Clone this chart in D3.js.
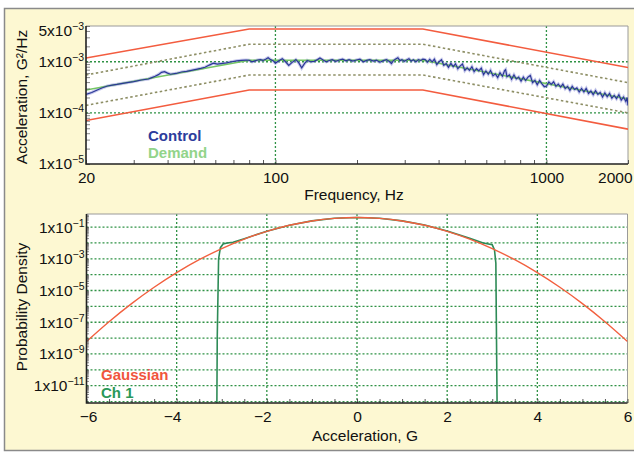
<!DOCTYPE html>
<html>
<head>
<meta charset="utf-8">
<script src="https://cdn.jsdelivr.net/npm/d3@7/dist/d3.min.js"></script>
<style>
  body { margin: 0; background: #ffffff; }
  svg { display: block; font-family: 'Liberation Sans', Arial, Helvetica, sans-serif; }
</style>
</head>
<body>
<script>
// ---- top panel: random vibration spectrum (G^2/Hz vs Hz)
const psdTicksX = [20, 100, 1000, 2000]
const psdTicksY = [1e-5, 1e-4, 1e-3, 5e-3]
const psdGridX = [100, 1000]
const psdGridY = [1e-4, 1e-3]

const profileF = [20, 80, 350, 2000]
const demand = [2.8e-4, 1.07e-3, 1.07e-3, 1.87e-4]
const abortHi = [1.18e-3, 4.37e-3, 4.37e-3, 7.7e-4]
const abortLo = [7.1e-5, 2.8e-4, 2.8e-4, 4.8e-5]
const alarmHi = [5.5e-4, 2.2e-3, 2.2e-3, 3.9e-4]
const alarmLo = [1.4e-4, 5.5e-4, 5.5e-4, 1.0e-4]

const controlF = [
  20, 21, 22, 23, 24, 25, 26, 28, 30, 32, 34, 35, 36, 37, 38, 39, 40, 41, 43, 45,
  47, 49, 51, 53, 55, 57, 59, 61, 63, 66, 69, 72, 75, 78, 80, 82, 84, 86, 88, 90,
  92, 94, 96, 98, 100, 103, 106, 109, 112, 115, 119, 122, 125, 128, 131, 135, 139, 143, 146, 150,
  154, 158, 162, 167, 172, 177, 182, 187, 193, 199, 205, 211, 217, 223, 230, 236, 243, 250, 257, 264,
  268, 272, 277, 283, 288, 293, 299, 305, 311, 317, 323, 330, 337, 344, 350, 357, 364, 371, 379, 386,
  394, 402, 410, 418, 427, 435, 444, 453, 462, 471, 481, 490, 500, 510, 520, 531, 541, 552, 563, 575,
  586, 598, 610, 622, 635, 648, 661, 674, 688, 701, 707, 715, 730, 744, 759, 774, 790, 806, 822, 838,
  855, 872, 889, 907, 925, 944, 963, 982, 1001, 1021, 1042, 1063, 1084, 1106, 1128, 1150, 1173, 1197, 1221, 1245,
  1270, 1295, 1321, 1348, 1375, 1402, 1430, 1459, 1488, 1518, 1548, 1579, 1611, 1643, 1676, 1710, 1744, 1779, 1814, 1851,
  1888, 1926, 1964, 1985, 2000
]
const controlV = [
  2.3e-4, 2.5e-4, 2.8e-4, 3.1e-4, 3.35e-4, 3.5e-4, 3.6e-4, 3.85e-4, 4.1e-4, 4.4e-4, 4.6e-4, 4.9e-4, 5.2e-4, 5.6e-4, 6.2e-4, 6.4e-4, 6.0e-4, 5.7e-4, 5.9e-4, 6.3e-4,
  6.5e-4, 6.8e-4, 7.1e-4, 7.4e-4, 7.8e-4, 8.6e-4, 9.4e-4, 9.0e-4, 9.2e-4, 9.5e-4, 1.0e-3, 1.04e-3, 1.06e-3, 1.08e-3, 1.07e-3, 1.0e-3, 1.04e-3, 1.08e-3, 1.1e-3, 1.06e-3,
  1.12e-3, 1.2e-3, 1.1e-3, 1.05e-3, 9.4e-4, 1.05e-3, 1.15e-3, 1.0e-3, 8.5e-4, 9.6e-4, 1.1e-3, 9.5e-4, 7.6e-4, 9.2e-4, 1.06e-3, 1.0e-3, 1.02e-3, 1.1e-3, 1.18e-3, 1.08e-3,
  1.0e-3, 1.06e-3, 1.1e-3, 1.02e-3, 1.08e-3, 1.12e-3, 1.04e-3, 1.1e-3, 1.03e-3, 1.08e-3, 1.12e-3, 1.0e-3, 1.06e-3, 1.1e-3, 1.03e-3, 1.07e-3, 9.8e-4, 1.05e-3, 1.1e-3, 1.0e-3,
  9.2e-4, 1.04e-3, 1.12e-3, 1.2e-3, 1.05e-3, 1.1e-3, 1.02e-3, 1.08e-3, 1.14e-3, 1.03e-3, 1.09e-3, 1.0e-3, 1.1e-3, 1.06e-3, 1.12e-3, 1.1e-3, 9.8e-4, 1.11e-3, 9.9e-4, 1.12e-3,
  8.8e-4, 1.0e-3, 1.09e-3, 8.5e-4, 9.2e-4, 7.8e-4, 9.3e-4, 8.0e-4, 9.1e-4, 7.3e-4, 8.3e-4, 9.0e-4, 6.75e-4, 7.6e-4, 6.8e-4, 8.0e-4, 6.4e-4, 7.3e-4, 6.65e-4, 7.5e-4,
  5.6e-4, 6.6e-4, 5.7e-4, 6.75e-4, 5.3e-4, 5.8e-4, 4.9e-4, 6.1e-4, 5.2e-4, 6.7e-4, 7.0e-4, 5.1e-4, 5.55e-4, 4.55e-4, 5.5e-4, 4.6e-4, 5.0e-4, 4.2e-4, 5.0e-4, 4.3e-4,
  5.0e-4, 5.4e-4, 3.9e-4, 4.35e-4, 3.55e-4, 4.3e-4, 3.7e-4, 3.25e-4, 3.35e-4, 4.0e-4, 3.6e-4, 4.05e-4, 3.3e-4, 3.65e-4, 3.2e-4, 3.65e-4, 2.98e-4, 3.3e-4, 2.76e-4, 3.3e-4,
  2.86e-4, 3.07e-4, 2.56e-4, 3.0e-4, 2.57e-4, 3.0e-4, 2.4e-4, 2.67e-4, 2.27e-4, 2.72e-4, 2.3e-4, 2.5e-4, 2.05e-4, 2.46e-4, 2.08e-4, 2.4e-4, 1.94e-4, 2.2e-4, 1.9e-4, 2.26e-4,
  1.78e-4, 2.04e-4, 1.67e-4, 2.0e-4, 1.4e-4
]

// ---- bottom panel: probability density vs acceleration
const accelTicks = [-6, -4, -2, 0, 2, 4, 6]
const accelGrid = [-4, -2, 0, 2, 4]
const probTicksY = [1e-1, 1e-3, 1e-5, 1e-7, 1e-9, 1e-11]
const probGridY = [1e-1, 1e-2, 1e-3, 1e-4, 1e-5, 1e-6, 1e-7, 1e-8, 1e-9, 1e-10, 1e-11, 1e-12]

const gaussX = [-6, -5.5, -5, -4.5, -4, -3.5, -3, -2.5, -2, -1.5, -1, -0.5, 0, 0.5, 1, 1.5, 2, 2.5, 3, 3.5, 4, 4.5, 5, 5.5, 6]
const gaussY = [6.1e-9, 1.08e-7, 1.49e-6, 1.6e-5, 1.34e-4, 8.7e-4, 4.43e-3, 1.75e-2, 5.4e-2, 0.1295, 0.242, 0.352, 0.399,
  0.352, 0.242, 0.1295, 5.4e-2, 1.75e-2, 4.43e-3, 8.7e-4, 1.34e-4, 1.6e-5, 1.49e-6, 1.08e-7, 6.1e-9]

const ch1X = [-3.11, -3.1, -3.07, -3.03, -2.97, -2.88, -2.75, -2.5, -2, -1.5, -1, -0.5, 0, 0.5, 1, 1.5, 2, 2.5, 2.8, 3.0, 3.05, 3.08, 3.09, 3.11]
const ch1Y = [1e-13, 1e-8, 1e-3, 5e-3, 8.5e-3, 9.8e-3, 1.1e-2, 1.85e-2, 5.5e-2, 0.13, 0.245, 0.355, 0.4,
  0.355, 0.245, 0.133, 5.7e-2, 1.95e-2, 1.0e-2, 7.6e-3, 3.6e-3, 5.2e-4, 2e-7, 1e-13]

const W = 634, H = 453
const GRID = '#2f9245'
const svg = d3.select('body').append('svg').attr('width', W).attr('height', H)

svg.append('rect')
  .attr('x', 4.5).attr('y', 8.5).attr('width', 640).attr('height', 442)
  .attr('fill', '#fdf8d2').attr('stroke', '#8a8a8a').attr('stroke-width', 1.5)

function supLabels(sel, shiftFirst) {
  sel.selectAll('.tick text').each(function (d) {
    const t = d3.select(this)
    const e = Math.floor(Math.log10(d) + 1e-9)
    const m = Math.round(d / Math.pow(10, e))
    t.text(null)
    t.append('tspan').text(m + 'x10')
    t.append('tspan').attr('dy', -6).attr('font-size', 10.5).text('\u2212' + (-e))
    if (shiftFirst && d === shiftFirst) t.attr('y', 5)
  })
}

function panel(p, x, y, opts) {
  const g = svg.append('g')
  const id = 'clip' + opts.name
  g.append('clipPath').attr('id', id).append('rect')
    .attr('x', p.left).attr('y', p.top).attr('width', p.right - p.left).attr('height', p.bottom - p.top)
  g.append('rect')
    .attr('x', p.left).attr('y', p.top).attr('width', p.right - p.left).attr('height', p.bottom - p.top)
    .attr('fill', '#ffffff')

  // dotted grid
  const grid = g.append('g').attr('stroke', GRID).attr('stroke-width', 1.3).attr('stroke-dasharray', '2,2')
  grid.selectAll('line.h').data(opts.gridY).join('line')
    .attr('x1', p.left).attr('x2', p.right).attr('y1', d => y(d)).attr('y2', d => y(d))
  grid.selectAll('line.v').data(opts.gridX).join('line')
    .attr('y1', p.top).attr('y2', p.bottom).attr('x1', d => x(d)).attr('x2', d => x(d))

  // frame: light top/right, dark axes
  g.append('path').attr('fill', 'none').attr('stroke', '#9a9a9a').attr('stroke-width', 1)
    .attr('d', `M${p.left},${p.top}H${p.right}V${p.bottom}`)

  const plot = g.append('g').attr('clip-path', `url(#${id})`)

  // minor ticks
  g.append('g').attr('transform', `translate(0,${p.bottom})`)
    .call(d3.axisBottom(x).tickValues(opts.minorX).tickSizeInner(-4).tickSizeOuter(0).tickFormat(''))
    .call(a => a.select('.domain').remove())
    .selectAll('line').attr('stroke', '#444').attr('stroke-width', 0.9)
  g.append('g').attr('transform', `translate(${p.left},0)`)
    .call(d3.axisLeft(y).tickValues(opts.minorY).tickSizeInner(-opts.minorLen).tickSizeOuter(0).tickFormat(''))
    .call(a => a.select('.domain').remove())
    .selectAll('line').attr('stroke', '#555').attr('stroke-width', 0.7)

  g.append('path').attr('fill', 'none').attr('stroke', '#222').attr('stroke-width', 1.6)
    .attr('d', `M${p.left},${p.top}V${p.bottom}H${p.right}`)

  // labels
  const ax = g.append('g').attr('transform', `translate(0,${p.bottom})`)
    .call(d3.axisBottom(x).tickValues(opts.ticksX).tickSize(0).tickPadding(8).tickFormat(opts.fmtX))
  ax.select('.domain').remove()
  ax.selectAll('text').attr('font-size', 15.5).attr('fill', '#111').attr('font-family', null)
  if (opts.fixX) opts.fixX(ax)

  const ay = g.append('g').attr('transform', `translate(${p.left},0)`)
    .call(d3.axisLeft(y).tickValues(opts.ticksY).tickSize(0).tickPadding(2))
  ay.select('.domain').remove()
  ay.selectAll('text').attr('font-size', 15.5).attr('fill', '#111').attr('font-family', null)
  supLabels(ay, opts.shiftY)

  g.append('text').attr('x', opts.xTitle[0]).attr('y', opts.xTitle[1])
    .attr('text-anchor', 'middle').attr('font-size', 15.5).attr('fill', '#111').text(opts.xLabel)
  g.append('text').attr('transform', `translate(26.5,${opts.yTitleY}) rotate(-90)`)
    .attr('text-anchor', 'middle').attr('font-size', 15.5).attr('fill', '#111').text(opts.yLabel)

  return plot
}

// ---------- top
const p1 = { left: 86, right: 628, top: 26, bottom: 164 }
const x1 = d3.scaleLog().domain([20, 2000]).range([p1.left, p1.right])
const y1 = d3.scaleLog().domain([1e-5, 5e-3]).range([p1.bottom, p1.top])

const plot1 = panel(p1, x1, y1, {
  name: 'psd',
  gridX: psdGridX, gridY: psdGridY,
  minorX: x1.ticks(), minorY: y1.ticks(), minorLen: 4,
  ticksX: psdTicksX, ticksY: psdTicksY,
  fmtX: d3.format('d'),
  fixX: ax => ax.selectAll('.tick text').filter(d => d === 2000).attr('text-anchor', 'end').attr('x', 4),
  shiftY: 5e-3,
  xLabel: 'Frequency, Hz', xTitle: [354, 200],
  yLabel: 'Acceleration, G\u00b2/Hz', yTitleY: 97
})

const line1 = d3.line().x(d => x1(d[0])).y(d => y1(d[1]))
const drawLine = (plot, line, xs, ys, color, width, dash) => plot.append('path')
  .datum(d3.zip(xs, ys)).attr('d', line).attr('fill', 'none')
  .attr('stroke', color).attr('stroke-width', width).attr('stroke-dasharray', dash || null)

drawLine(plot1, line1, profileF, abortHi, '#f35c3f', 1.6)
drawLine(plot1, line1, profileF, abortLo, '#f35c3f', 1.6)
drawLine(plot1, line1, profileF, alarmHi, '#8e8f66', 1.6, '2.5,2.5')
drawLine(plot1, line1, profileF, alarmLo, '#8e8f66', 1.6, '2.5,2.5')
drawLine(plot1, line1, controlF, controlV, '#8d92d8', 3.2).attr('opacity', 0.5)
drawLine(plot1, line1, profileF, demand, '#74c565', 1.6)
drawLine(plot1, line1, controlF, controlV, '#2b3797', 1.2)

svg.append('text').attr('x', 148).attr('y', 141).attr('font-size', 15).attr('font-weight', 'bold')
  .attr('fill', '#2c3c9c').text('Control')
svg.append('text').attr('x', 148).attr('y', 158).attr('font-size', 15).attr('font-weight', 'bold')
  .attr('fill', '#92d48a').text('Demand')

// ---------- bottom
const p2 = { left: 86.5, right: 627.5, top: 214, bottom: 403 }
const x2 = d3.scaleLinear().domain([-6, 6]).range([p2.left, p2.right])
const y2 = d3.scaleLog().domain([8.1e-13, 0.665]).range([p2.bottom, p2.top])

const plot2 = panel(p2, x2, y2, {
  name: 'pdf',
  gridX: accelGrid, gridY: probGridY,
  minorX: x2.ticks(24), minorY: y2.ticks(30), minorLen: 2.5,
  ticksX: accelTicks, ticksY: probTicksY,
  fmtX: d => d < 0 ? '\u2212' + (-d) : String(d),
  fixX: ax => {
    ax.selectAll('.tick text').filter(d => d < 0).attr('dx', -4.5)
    ax.selectAll('.tick text').filter(d => d === -6).attr('dx', 1.5)
  },
  xLabel: 'Acceleration, G', xTitle: [365, 441],
  yLabel: 'Probability Density', yTitleY: 307
})

const line2 = d3.line().x(d => x2(d[0])).y(d => y2(d[1])).curve(d3.curveCatmullRom)
drawLine(plot2, d3.line().x(d => x2(d[0])).y(d => y2(d[1])), ch1X, ch1Y, '#2e8b57', 1.6)
drawLine(plot2, line2, gaussX, gaussY, '#f2603f', 1.4)

svg.append('text').attr('x', 101).attr('y', 380).attr('font-size', 15).attr('font-weight', 'bold')
  .attr('fill', '#f0553c').text('Gaussian')
svg.append('text').attr('x', 101).attr('y', 398).attr('font-size', 15).attr('font-weight', 'bold')
  .attr('fill', '#2a9858').text('Ch 1')
</script>
</body>
</html>
